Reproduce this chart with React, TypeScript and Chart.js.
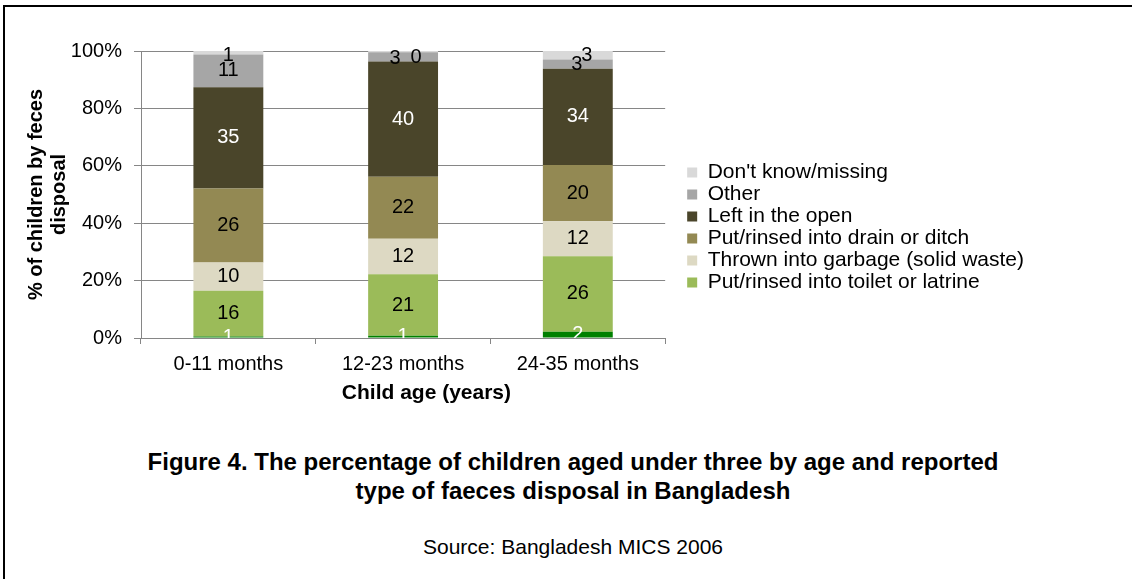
import React, { useEffect, useRef } from "react";
import { Chart, registerables } from "chart.js";

Chart.register(...registerables);

const categories = ["0-11 months", "12-23 months", "24-35 months"];

const seriesNames = [
  "Child used toilet or latrine",
  "Put/rinsed into toilet or latrine",
  "Thrown into garbage (solid waste)",
  "Put/rinsed into drain or ditch",
  "Left in the open",
  "Other",
  "Don't know/missing",
];

const childUsedToilet = [0.5, 0.8, 2.2];
const rinsedToilet = [16.0, 21.4, 26.3];
const garbage = [9.8, 12.4, 12.2];
const drain = [25.8, 21.6, 19.6];
const openAir = [35.3, 40.1, 33.5];
const other = [11.4, 3.3, 3.2];
const dontKnow = [1.2, 0.4, 3.0];

const yTicks = [0, 20, 40, 60, 80, 100];

const seriesValues = [childUsedToilet, rinsedToilet, garbage, drain, openAir, other, dontKnow];
const seriesColors = ["#008000", "#9BBB59", "#DDD9C3", "#938953", "#4A452A", "#A6A6A6", "#D9D9D9"];
const labelColors = ["#FFFFFF", "#000000", "#000000", "#000000", "#FFFFFF", "#000000", "#000000"];

const FONT = "'Liberation Sans', Arial, sans-serif";

const valueLabelPlugin = {
  id: "valueLabels",
  afterDatasetsDraw(chart: any, _args: any, opts: any) {
    const { ctx, chartArea } = chart;
    const shifts = (opts && opts.shifts) || {};
    ctx.save();
    ctx.beginPath();
    ctx.rect(chartArea.left, chartArea.top - 20, chartArea.right - chartArea.left, chartArea.bottom - chartArea.top + 20);
    ctx.clip();
    ctx.font = `20px ${FONT}`;
    ctx.textAlign = "center";
    ctx.textBaseline = "middle";
    chart.data.datasets.forEach((ds: any, di: number) => {
      const meta = chart.getDatasetMeta(di);
      meta.data.forEach((el: any, i: number) => {
        const v = ds.data[i];
        const s = shifts[`${di}:${i}`] || [0, 0];
        const x = el.x + s[0];
        const y = (el.y + el.base) / 2 + s[1];
        ctx.fillStyle = labelColors[di];
        ctx.fillText(String(Math.round(v)), x, y);
      });
    });
    ctx.restore();
  },
};

export default function App() {
  const ref = useRef<HTMLCanvasElement | null>(null);

  useEffect(() => {
    if (!ref.current) return;
    const chart = new Chart(ref.current, {
      type: "bar",
      data: {
        labels: categories,
        datasets: seriesNames.map((name, i) => ({
          label: name,
          data: seriesValues[i],
          backgroundColor: seriesColors[i],
          borderWidth: 0,
          categoryPercentage: 0.4,
          barPercentage: 1,
        })),
      },
      options: {
        animation: false,
        responsive: true,
        maintainAspectRatio: false,
        layout: { padding: { top: 51, left: 25, right: 98, bottom: 0 } },
        plugins: {
          tooltip: { enabled: false },
          legend: {
            position: "right",
            reverse: true,
            maxWidth: 420,
            labels: {
              filter: (item: any) => item.datasetIndex !== 0,
              boxWidth: 10,
              boxHeight: 10,
              padding: 1,
              color: "#000",
              font: { family: FONT, size: 21 },
            },
          },
          valueLabels: {
            shifts: {
              "5:1": [-8, 2],
              "6:1": [13, 6],
              "6:2": [9, 0],
              "5:2": [-1, 0],
              "6:0": [0, 3],
            },
          },
        } as any,
        scales: {
          x: {
            stacked: true,
            afterFit: (scale: any) => {
              scale.height = 66;
            },
            grid: {
              drawOnChartArea: false,
              drawTicks: true,
              tickLength: 6,
              color: "#868686",
              offset: true,
            },
            border: { color: "#868686" },
            ticks: { color: "#000", font: { family: FONT, size: 20 }, padding: 8 },
            title: {
              display: true,
              text: "        Child age (years)",
              color: "#000",
              font: { family: FONT, size: 21, weight: "bold", lineHeight: 1 },
              padding: { top: 0, bottom: 0 },
            },
          },
          y: {
            stacked: true,
            min: 0,
            max: 100,
            afterFit: (scale: any) => {
              scale.width = 116;
            },
            afterBuildTicks: (scale: any) => {
              scale.ticks = yTicks.map((v) => ({ value: v }));
            },
            grid: { color: "#868686", tickLength: 7 },
            border: { color: "#868686" },
            ticks: {
              color: "#000",
              font: { family: FONT, size: 20 },
              padding: 12,
              callback: (v: any) => `${v}%`,
            },
            title: {
              display: true,
              text: ["% of children by feces", "disposal"],
              color: "#000",
              font: { family: FONT, size: 20, weight: "bold", lineHeight: 1.15 },
              padding: { top: 0, bottom: 0 },
            },
          },
          gap: {
            type: "linear",
            position: "right",
            display: true,
            afterFit: (scale: any) => {
              scale.width = 21;
            },
            grid: { display: false },
            border: { display: false },
            ticks: { display: false },
          },
        } as any,
      },
      plugins: [valueLabelPlugin],
    });
    return () => chart.destroy();
  }, []);

  return (
    <div style={{ position: "absolute", left: 0, top: 0, width: 1132, height: 579, overflow: "hidden", background: "#fff" }}>
      <div
        style={{
          position: "absolute",
          left: 3,
          top: 5,
          width: 1200,
          height: 700,
          borderTop: "2px solid #000",
          borderLeft: "2px solid #000",
        }}
      />
      <div style={{ position: "absolute", left: 0, top: 0, width: 1132, height: 404 }}>
        <canvas ref={ref} />
      </div>
      <div
        style={{
          position: "absolute",
          left: 14,
          top: 447,
          width: 1118,
          textAlign: "center",
          fontFamily: FONT,
          fontWeight: "bold",
          fontSize: 24,
          lineHeight: "29px",
          color: "#000",
        }}
      >
        Figure 4. The percentage of children aged under three by age and reported
        <br />
        type of faeces disposal in Bangladesh
      </div>
      <div
        style={{
          position: "absolute",
          left: 14,
          top: 535,
          width: 1118,
          textAlign: "center",
          fontFamily: FONT,
          fontSize: 21,
          lineHeight: "24px",
          color: "#000",
        }}
      >
        Source: Bangladesh MICS 2006
      </div>
    </div>
  );
}
